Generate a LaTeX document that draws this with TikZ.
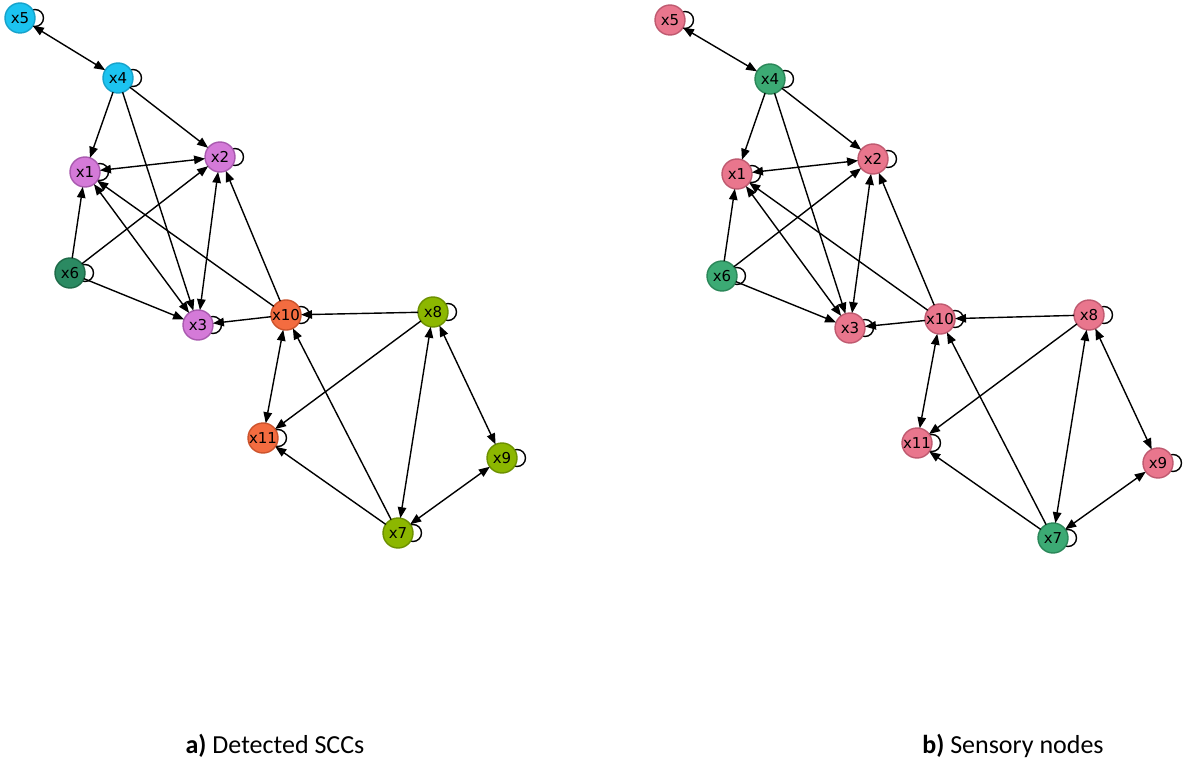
\documentclass[tikz,border=0pt]{standalone}
\usepackage{fontspec}
\setmainfont{Carlito}
\newfontfamily\dejavu{DejaVu Sans}
\usetikzlibrary{arrows.meta,backgrounds}
\definecolor{cyF}{HTML}{1CC3F0}\definecolor{cyD}{HTML}{17A2CB}
\definecolor{orF}{HTML}{D47AD8}\definecolor{orD}{HTML}{A95AAF}
\definecolor{dgF}{HTML}{2B8A62}\definecolor{dgD}{HTML}{1E6A48}
\definecolor{rdF}{HTML}{F36C40}\definecolor{rdD}{HTML}{CC542D}
\definecolor{ygF}{HTML}{8CB700}\definecolor{ygD}{HTML}{6C9000}
\definecolor{pkF}{HTML}{E9768D}\definecolor{pkD}{HTML}{BF5A70}
\definecolor{gnF}{HTML}{3CAA74}\definecolor{gnD}{HTML}{2B8759}
\tikzset{
  vtx/.style={circle, minimum size=30pt, inner sep=0pt, outer sep=0pt, line width=1.4pt,
    font=\dejavu\fontsize{15}{15}\selectfont},
  cyN/.style={vtx, fill=cyF, draw=cyD},
  orN/.style={vtx, fill=orF, draw=orD},
  dgN/.style={vtx, fill=dgF, draw=dgD},
  rdN/.style={vtx, fill=rdF, draw=rdD},
  ygN/.style={vtx, fill=ygF, draw=ygD},
  pkN/.style={vtx, fill=pkF, draw=pkD},
  gnN/.style={vtx, fill=gnF, draw=gnD},
  arr/.style={-{Triangle[length=11pt,width=8.5pt]}, line width=1.4pt},
  barr/.style={{Triangle[length=11pt,width=8.5pt]}-{Triangle[length=11pt,width=8.5pt]}, line width=1.4pt},
  selfloop/.style={line width=1.4pt},
  capt/.style={font=\fontsize{26}{30}\selectfont, anchor=base}
}
\begin{document}
\begin{tikzpicture}[x=1pt,y=-1pt]
\useasboundingbox (0,0) rectangle (1186,762);
% left graph
\node[cyN] (a5) at (20,18) {x5};
\node[cyN] (a4) at (118,78) {x4};
\node[orN] (a1) at (85,172) {x1};
\node[orN] (a2) at (220,157) {x2};
\node[dgN] (a6) at (70,273) {x6};
\node[orN] (a3) at (198,325) {x3};
\node[rdN] (a10) at (286,315) {x10};
\node[ygN] (a8) at (433,312) {x8};
\node[rdN] (a11) at (263,438) {x11};
\node[ygN] (a9) at (502,458) {x9};
\node[ygN] (a7) at (398,533) {x7};
% right graph
\node[pkN] (b5) at (670,20) {x5};
\node[gnN] (b4) at (770,79) {x4};
\node[pkN] (b1) at (737,174) {x1};
\node[pkN] (b2) at (873,159) {x2};
\node[gnN] (b6) at (722,276) {x6};
\node[pkN] (b3) at (850,328) {x3};
\node[pkN] (b10) at (940,319) {x10};
\node[pkN] (b8) at (1089,315) {x8};
\node[pkN] (b11) at (917,443) {x11};
\node[pkN] (b9) at (1158,463) {x9};
\node[gnN] (b7) at (1053,538) {x7};
\begin{scope}[on background layer]
\fill[white] (0,0) rectangle (1186,762);
\foreach \g in {a,b}{
  \foreach \i in {1,...,11}{
    \draw[selfloop] ([xshift=15pt]\g\i.center) circle (8.5pt);
  }
}
\end{scope}
\foreach \g in {a,b}{
  \draw[barr] (\g5) -- (\g4);
  \draw[barr] (\g1) -- (\g2);
  \draw[barr] (\g1) -- (\g3);
  \draw[barr] (\g2) -- (\g3);
  \draw[barr] (\g10) -- (\g11);
  \draw[barr] (\g8) -- (\g7);
  \draw[barr] (\g8) -- (\g9);
  \draw[barr] (\g9) -- (\g7);
  \draw[arr] (\g4) -- (\g1);
  \draw[arr] (\g4) -- (\g2);
  \draw[arr] (\g4) -- (\g3);
  \draw[arr] (\g6) -- (\g1);
  \draw[arr] (\g6) -- (\g2);
  \draw[arr] (\g6) -- (\g3);
  \draw[arr] (\g10) -- (\g1);
  \draw[arr] (\g10) -- (\g2);
  \draw[arr] (\g10) -- (\g3);
  \draw[arr] (\g8) -- (\g10);
  \draw[arr] (\g8) -- (\g11);
  \draw[arr] (\g7) -- (\g11);
  \draw[arr] (\g7) -- (\g10);
}
\node[capt] (ca) at (275,753) {\textbf{a)} Detected SCCs};
\node[capt] (cb) at (1013,753) {\textbf{b)} Sensory nodes};
\end{tikzpicture}
\end{document}
